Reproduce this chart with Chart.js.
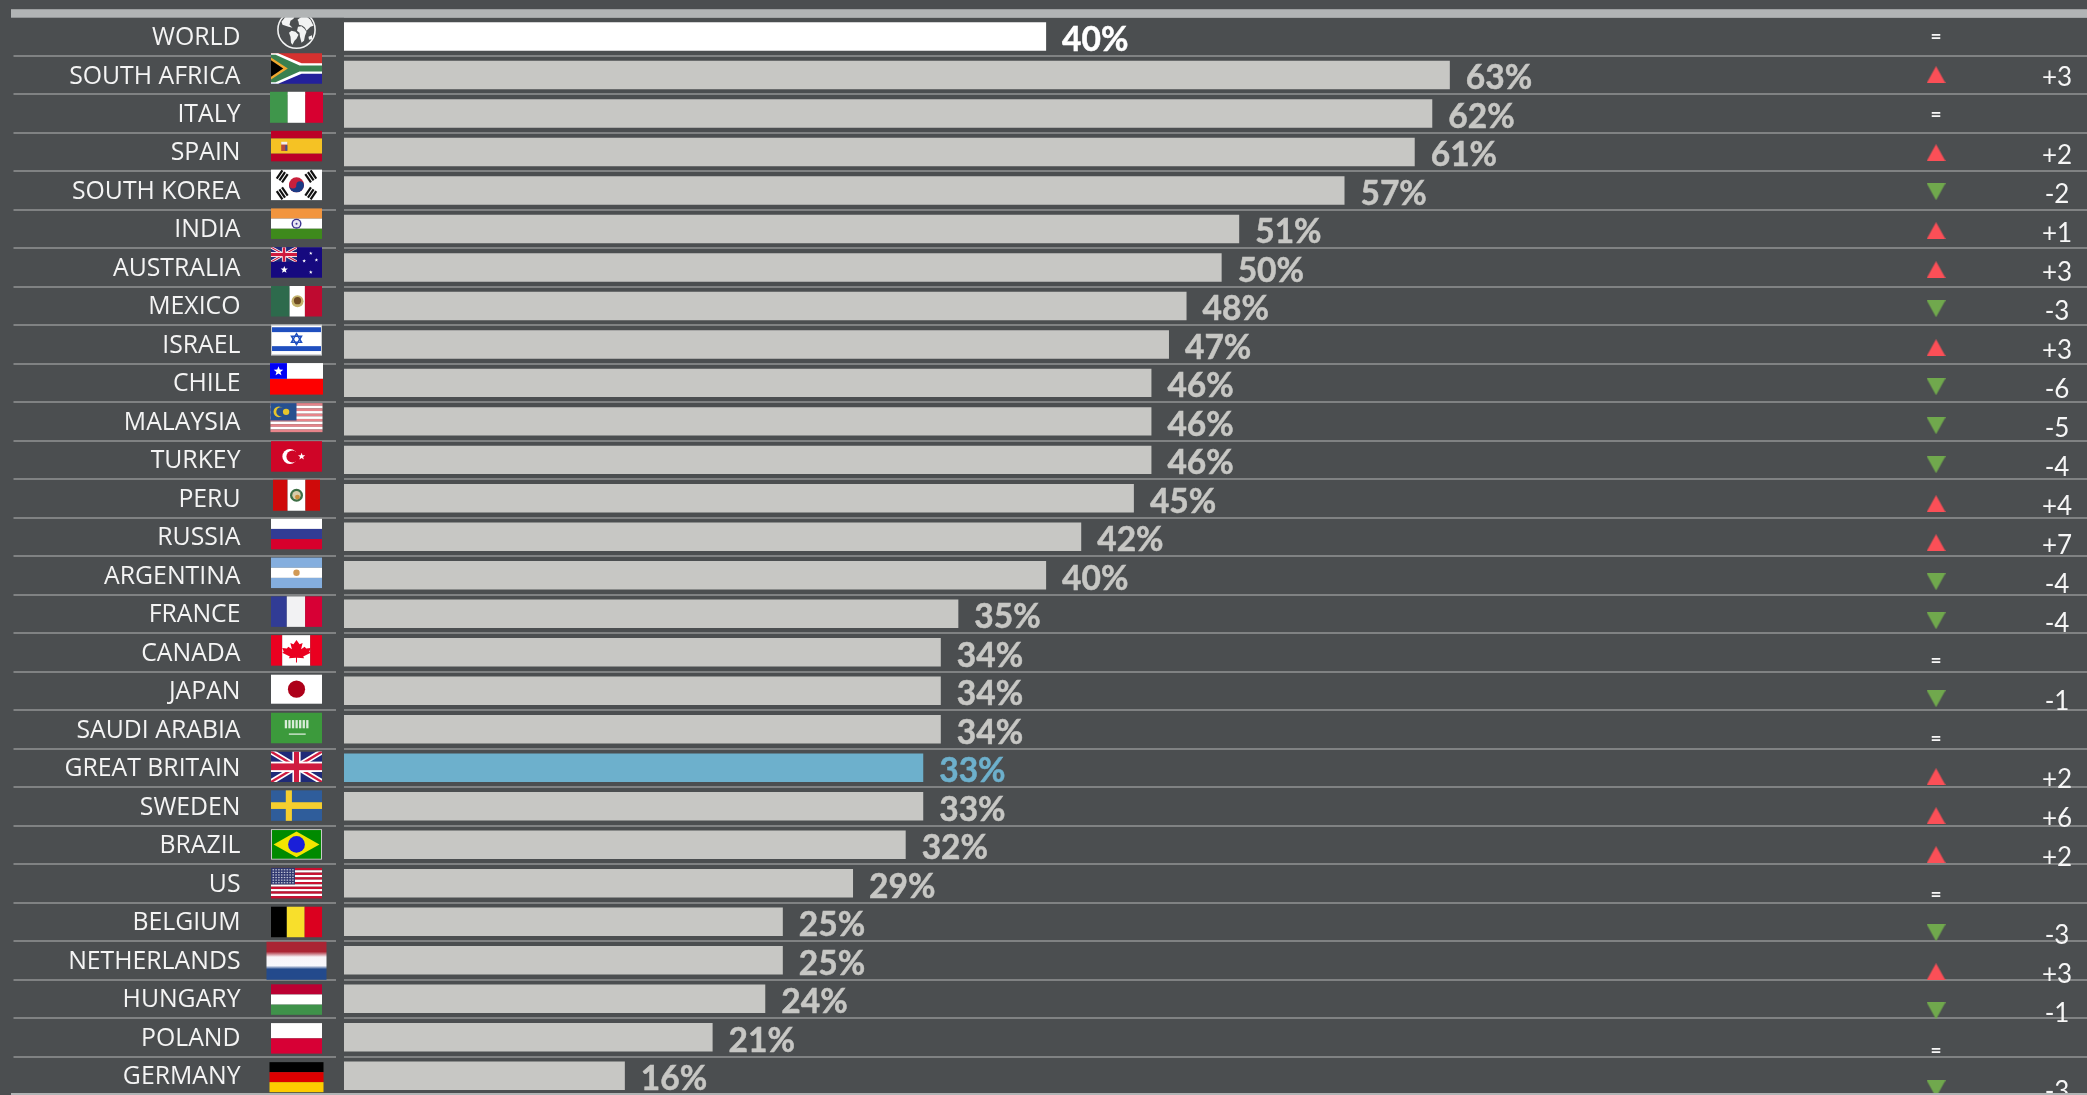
<!DOCTYPE html>
<html>
<head>
<meta charset="utf-8">
<title>Country ranking</title>
<script src="https://cdn.jsdelivr.net/npm/chart.js@4/dist/chart.umd.js"></script>
<style>
  html, body { margin: 0; padding: 0; background: #4b4e50; overflow: hidden; }
  canvas { display: block; }
</style>
</head>
<body>
<canvas id="myChart" width="2087" height="1095"></canvas>
<script>
const countries = ["WORLD", "SOUTH AFRICA", "ITALY", "SPAIN", "SOUTH KOREA", "INDIA", "AUSTRALIA", "MEXICO", "ISRAEL", "CHILE", "MALAYSIA", "TURKEY", "PERU", "RUSSIA", "ARGENTINA", "FRANCE", "CANADA", "JAPAN", "SAUDI ARABIA", "GREAT BRITAIN", "SWEDEN", "BRAZIL", "US", "BELGIUM", "NETHERLANDS", "HUNGARY", "POLAND", "GERMANY"];
const percent = [40, 63, 62, 61, 57, 51, 50, 48, 47, 46, 46, 46, 45, 42, 40, 35, 34, 34, 34, 33, 33, 32, 29, 25, 25, 24, 21, 16];
const change = [0, 3, 0, 2, -2, 1, 3, -3, 3, -6, -5, -4, 4, 7, -4, -4, 0, -1, 0, 2, 6, 2, 0, -3, 3, -1, 0, -3];

const BAR = "#c7c7c4";
const BLUE = "#6db0cc";
const RULE = "#808283";
const BAND = "#b1b4b5";
const UP = "#fb4f57";
const DOWN = "#70a84d";

// column for the arrows, in x scale units
const ARROW_COL = 90.7;
const CHANGE_X = 2057;

function triangle(color, down) {
  const c = document.createElement("canvas");
  c.width = 19;
  c.height = 17;
  const g = c.getContext("2d");
  g.fillStyle = color;
  g.beginPath();
  if (down) {
    g.moveTo(0, 0); g.lineTo(19, 0); g.lineTo(9.5, 17);
  } else {
    g.moveTo(9.5, 0); g.lineTo(19, 17); g.lineTo(0, 17);
  }
  g.fill();
  return c;
}
const upMark = triangle(UP, false);
const downMark = triangle(DOWN, true);

// ---- flags, all drawn in a 0..1 box ----
function rect(g, col, x, y, w, h) { g.fillStyle = col; g.fillRect(x, y, w, h); }
function hs(g, cols, cuts) {
  let y = 0;
  cols.forEach((c, i) => {
    const h = cuts ? cuts[i] : 1 / cols.length;
    rect(g, c, 0, y, 1, h);
    y += h;
  });
}
function vs(g, cols, cuts) {
  let x = 0;
  cols.forEach((c, i) => {
    const w = cuts ? cuts[i] : 1 / cols.length;
    rect(g, c, x, 0, w, 1);
    x += w;
  });
}
function poly(g, col, pts) {
  g.fillStyle = col;
  g.beginPath();
  pts.forEach((p, i) => (i ? g.lineTo(p[0], p[1]) : g.moveTo(p[0], p[1])));
  g.closePath();
  g.fill();
}
function seg(g, col, lw, x1, y1, x2, y2) {
  g.strokeStyle = col;
  g.lineWidth = lw;
  g.beginPath();
  g.moveTo(x1, y1);
  g.lineTo(x2, y2);
  g.stroke();
}
// circles in pixels so they stay round inside the stretched box
function dot(g, col, cx, cy, r, W, H) {
  g.save();
  g.translate(cx, cy);
  g.scale(1 / W, 1 / H);
  g.fillStyle = col;
  g.beginPath();
  g.arc(0, 0, r, 0, Math.PI * 2);
  g.fill();
  g.restore();
}
function star(g, col, cx, cy, r, W, H) {
  g.save();
  g.translate(cx, cy);
  g.scale(1 / W, 1 / H);
  g.fillStyle = col;
  g.beginPath();
  for (let i = 0; i < 10; i++) {
    const a = -Math.PI / 2 + i * Math.PI / 5, q = i % 2 ? r * 0.42 : r;
    g.lineTo(Math.cos(a) * q, Math.sin(a) * q);
  }
  g.closePath();
  g.fill();
  g.restore();
}
function unionJack(g, x, y, w, h, W, H) {
  g.save();
  g.beginPath();
  g.rect(x, y, w, h);
  g.clip();
  rect(g, "#1f2a78", x, y, w, h);
  // keep the cross strokes even: draw in pixels
  g.translate(x, y);
  g.scale(1 / W, 1 / H);
  const pw = w * W, ph = h * H, t = ph * 0.17;
  seg(g, "#fff", t * 1.1, 0, 0, pw, ph);
  seg(g, "#fff", t * 1.1, pw, 0, 0, ph);
  seg(g, "#cf1b3f", t * 0.45, 0, 0, pw, ph);
  seg(g, "#cf1b3f", t * 0.45, pw, 0, 0, ph);
  rect(g, "#fff", pw * 0.42, 0, pw * 0.16, ph);
  rect(g, "#fff", 0, ph * 0.33, pw, ph * 0.34);
  rect(g, "#cf1b3f", pw * 0.45, 0, pw * 0.1, ph);
  rect(g, "#cf1b3f", 0, ph * 0.39, pw, ph * 0.22);
  g.restore();
}
function crest(g, W, H, col, ring) {
  dot(g, ring, 0.5, 0.5, 6.5, W, H);
  dot(g, col, 0.5, 0.5, 4.2, W, H);
  dot(g, "#c98e3a", 0.52, 0.56, 2.4, W, H);
}

const flags = {
  "SOUTH AFRICA": (g, W, H) => {
    hs(g, ["#d5312f", "#23209b"], [0.5, 0.5]);
    poly(g, "#fff", [[0, 0], [0.14, 0], [0.6, 0.33], [1, 0.33], [1, 0.67], [0.6, 0.67], [0.14, 1], [0, 1]]);
    poly(g, "#39804f", [[0, 0.05], [0.09, 0.05], [0.56, 0.4], [1, 0.4], [1, 0.6], [0.56, 0.6], [0.09, 0.95], [0, 0.95]]);
    poly(g, "#f0a830", [[0, 0.14], [0.33, 0.5], [0, 0.86]]);
    poly(g, "#000", [[0, 0.23], [0.24, 0.5], [0, 0.77]]);
  },
  ITALY: g => vs(g, ["#3f964b", "#fff", "#d70030"]),
  SPAIN: (g, W, H) => {
    hs(g, ["#bc0027", "#f5c224", "#bc0027"], [0.25, 0.5, 0.25]);
    rect(g, "#b84a3a", 0.2, 0.38, 0.12, 0.28);
    rect(g, "#f1efe6", 0.2, 0.36, 0.12, 0.09);
    rect(g, "#3d4f8f", 0.28, 0.47, 0.04, 0.18);
  },
  "SOUTH KOREA": (g, W, H) => {
    rect(g, "#fff", 0, 0, 1, 1);
    dot(g, "#c8203c", 0.5, 0.5, 7.5, W, H);
    g.save();
    g.beginPath(); g.rect(0, 0.5, 1, 0.5); g.clip();
    dot(g, "#1c3b85", 0.5, 0.5, 7.5, W, H);
    g.restore();
    dot(g, "#c8203c", 0.43, 0.5, 3.7, W, H);
    dot(g, "#1c3b85", 0.57, 0.5, 3.7, W, H);
    [[0.22, 0.22, 0.6], [0.78, 0.22, -0.6], [0.22, 0.78, -0.6], [0.78, 0.78, 0.6]].forEach(p => {
      g.save();
      g.translate(p[0], p[1]);
      g.scale(1 / W, 1 / H);
      g.rotate(p[2] + Math.PI / 2);
      [-3.2, 0, 3.2].forEach(d => { g.fillStyle = "#111"; g.fillRect(-5, d - 1.1, 10, 2.2); });
      g.restore();
    });
  },
  INDIA: (g, W, H) => {
    hs(g, ["#f2953e", "#fff", "#3e8a1c"]);
    dot(g, "#3a3390", 0.5, 0.5, 5, W, H);
    dot(g, "#e8e6f2", 0.5, 0.5, 3.6, W, H);
    dot(g, "#3a3390", 0.5, 0.5, 1, W, H);
  },
  AUSTRALIA: (g, W, H) => {
    rect(g, "#16097f", 0, 0, 1, 1);
    unionJack(g, 0, 0, 0.51, 0.48, W, H);
    star(g, "#fff", 0.26, 0.74, 3.8, W, H);
    star(g, "#fff", 0.78, 0.2, 1.9, W, H);
    star(g, "#fff", 0.65, 0.45, 1.9, W, H);
    star(g, "#fff", 0.89, 0.42, 1.9, W, H);
    star(g, "#fff", 0.78, 0.82, 1.9, W, H);
  },
  MEXICO: (g, W, H) => {
    vs(g, ["#2d6a4c", "#fff", "#bf0a30"], [0.365, 0.3, 0.335]);
    dot(g, "#c3b26c", 0.52, 0.5, 6, W, H);
    dot(g, "#6d4a22", 0.52, 0.48, 3.6, W, H);
  },
  ISRAEL: (g, W, H) => {
    rect(g, "#fff", 0, 0, 1, 1);
    rect(g, "#1f4fbf", 0.02, 0.08, 0.96, 0.16);
    rect(g, "#1f4fbf", 0.02, 0.7, 0.96, 0.16);
    g.save();
    g.translate(0.5, 0.47);
    g.scale(1 / W, 1 / H);
    g.strokeStyle = "#1f4fbf";
    g.lineWidth = 1.5;
    [-1, 1].forEach(s => {
      g.beginPath();
      g.moveTo(0, -5.5 * s);
      g.lineTo(5, 3 * s);
      g.lineTo(-5, 3 * s);
      g.closePath();
      g.stroke();
    });
    g.restore();
    g.strokeStyle = "#c9cbcc";
    g.save();
    g.scale(1 / W, 1 / H);
    g.lineWidth = 1;
    g.strokeRect(0.5, 0.5, W - 1, H - 1);
    g.restore();
  },
  CHILE: (g, W, H) => {
    hs(g, ["#fff", "#fe0000"]);
    rect(g, "#0000f5", 0, 0, 0.32, 0.5);
    star(g, "#fff", 0.16, 0.26, 5, W, H);
  },
  MALAYSIA: (g, W, H) => {
    hs(g, ["#e7848a", "#fff", "#e7848a", "#fff", "#e7848a", "#fff", "#e7848a", "#fff", "#e7848a", "#fff", "#e7848a"]);
    rect(g, "#27508f", 0, 0, 0.5, 0.6);
    dot(g, "#e6c52c", 0.16, 0.3, 5.3, W, H);
    dot(g, "#27508f", 0.2, 0.3, 4.6, W, H);
    dot(g, "#e6c52c", 0.3, 0.3, 3.2, W, H);
  },
  TURKEY: (g, W, H) => {
    rect(g, "#cf0527", 0, 0, 1, 1);
    dot(g, "#fff", 0.37, 0.5, 7.5, W, H);
    dot(g, "#cf0527", 0.42, 0.5, 6, W, H);
    star(g, "#fff", 0.6, 0.5, 3.8, W, H);
  },
  PERU: (g, W, H) => {
    vs(g, ["#cf0a0a", "#fff", "#cf0a0a"], [0.31, 0.38, 0.31]);
    crest(g, W, H, "#d8ccaa", "#3d6e45");
  },
  RUSSIA: g => hs(g, ["#fff", "#313c95", "#d7002c"]),
  ARGENTINA: (g, W, H) => {
    hs(g, ["#84aede", "#fff", "#84aede"]);
    dot(g, "#d19a56", 0.5, 0.5, 3.2, W, H);
  },
  FRANCE: g => vs(g, ["#313c95", "#f2f2f3", "#d70035"], [0.31, 0.36, 0.33]),
  CANADA: (g, W, H) => {
    vs(g, ["#ea0020", "#fff", "#ea0020"], [0.22, 0.55, 0.23]);
    poly(g, "#ea0020", [[0.5, 0.16], [0.56, 0.3], [0.62, 0.26], [0.59, 0.46], [0.66, 0.38], [0.69, 0.44], [0.78, 0.42], [0.75, 0.54], [0.78, 0.58], [0.63, 0.7], [0.65, 0.76], [0.51, 0.74], [0.51, 0.9], [0.49, 0.9], [0.49, 0.74], [0.35, 0.76], [0.37, 0.7], [0.22, 0.58], [0.25, 0.54], [0.22, 0.42], [0.31, 0.44], [0.34, 0.38], [0.41, 0.46], [0.38, 0.26], [0.44, 0.3]]);
  },
  JAPAN: (g, W, H) => {
    rect(g, "#fff", 0, 0, 1, 1);
    dot(g, "#ad0019", 0.5, 0.5, 8.6, W, H);
  },
  "SAUDI ARABIA": (g, W, H) => {
    rect(g, "#3c9a3c", 0, 0, 1, 1);
    for (let x = 0.27; x < 0.72; x += 0.07) rect(g, "#d9ecd9", x, 0.24, 0.045, 0.27);
    rect(g, "#e6f2e6", 0.35, 0.68, 0.33, 0.04);
  },
  "GREAT BRITAIN": (g, W, H) => unionJack(g, 0, 0, 1, 1, W, H),
  SWEDEN: g => {
    rect(g, "#2f5d9b", 0, 0, 1, 1);
    rect(g, "#f5ce2e", 0.29, 0, 0.12, 1);
    rect(g, "#f5ce2e", 0, 0.39, 1, 0.22);
  },
  BRAZIL: (g, W, H) => {
    rect(g, "#c7c9c7", 0, 0, 1, 1);
    rect(g, "#008a00", 0.02, 0.03, 0.96, 0.94);
    poly(g, "#f2e500", [[0.05, 0.5], [0.5, 0.08], [0.95, 0.5], [0.5, 0.92]]);
    dot(g, "#1a1fd8", 0.5, 0.5, 8.4, W, H);
  },
  US: g => {
    const cols = [];
    for (let i = 0; i < 13; i++) cols.push(i % 2 ? "#fff" : "#c9102f");
    hs(g, cols);
    rect(g, "#30386f", 0, 0, 0.47, 0.54);
    for (let r = 0; r < 6; r++) {
      for (let c = 0; c < 8; c++) rect(g, "#c5c8d8", 0.03 + c * 0.055, 0.04 + r * 0.085, 0.03, 0.04);
    }
  },
  BELGIUM: g => vs(g, ["#000", "#f8df2b", "#db001f"], [0.31, 0.35, 0.34]),
  NETHERLANDS: g => {
    const fade = g.createLinearGradient(0, 0, 0, 1);
    fade.addColorStop(0, "#aa2433");
    fade.addColorStop(0.26, "#aa2433");
    fade.addColorStop(0.4, "#f7f4f8");
    fade.addColorStop(0.63, "#f8f8fc");
    fade.addColorStop(0.72, "#234a8c");
    fade.addColorStop(1, "#234a8c");
    rect(g, fade, 0, 0, 1, 1);
  },
  HUNGARY: g => hs(g, ["#bb0032", "#fff", "#3f924a"]),
  POLAND: g => hs(g, ["#fff", "#d70035"]),
  GERMANY: g => hs(g, ["#000", "#dd0000", "#ffcc00"])
};

// a few pictures in the reference are not the usual size
const flagBox = {
  NETHERLANDS: [60, 38],
  GERMANY: [54, 30],
  PERU: [47, 31],
  CHILE: [53, 31.5],
  ITALY: [53, 31],
  JAPAN: [51, 29],
  MALAYSIA: [52, 29]
};

function drawGlobe(g, cx, cy, r) {
  g.save();
  g.translate(cx, cy);
  g.strokeStyle = "#f2f3f3";
  g.lineWidth = 1.6;
  g.beginPath();
  g.arc(0, 0, r, 0, Math.PI * 2);
  g.stroke();
  g.fillStyle = "#f2f3f3";
  const land = [
    // north america
    [[-15, -8], [-11, -13], [-5, -15.5], [-1, -15], [-3, -11], [-6, -9], [-7, -5], [-4, -2], [-8, -3], [-11, -4], [-14, -5]],
    // south america
    [[-5, 1], [-1, 2], [2, 5], [0, 9], [-2, 11], [-4, 15], [-5.5, 13], [-6, 7], [-7.5, 3]],
    // europe and asia
    [[1, -10], [5, -13], [9, -14], [14, -10], [17, -4], [14, -3], [12, -1], [10, 1], [8.5, -2], [6, -4], [2.5, -5], [2, -8]],
    // africa
    [[1.5, -3], [5, -3.5], [8, -1], [10, 2], [8.5, 6], [7.5, 11], [5, 13], [3.5, 7], [3, 3], [0.5, 1]],
    // australia
    [[12, 7], [15.5, 5.5], [15.5, 9.5], [12.5, 10]]
  ];
  land.forEach(shape => {
    g.beginPath();
    shape.forEach((p, i) => (i ? g.lineTo(p[0], p[1]) : g.moveTo(p[0], p[1])));
    g.closePath();
    g.fill();
  });
  g.restore();
}

const sheetDecor = {
  id: "sheetDecor",
  beforeDraw(chart) {
    // nudge the country names down a little, their caps sit high on the row
    const items = chart.scales.y.getLabelItems();
    items.forEach(item => { item.options.translation[1] += 1.5; });
    chart.scales.y._labelItems = items;
  },
  beforeDatasetsDraw(chart) {
    const g = chart.ctx, y = chart.scales.y, area = chart.chartArea;
    g.save();
    g.strokeStyle = RULE;
    g.lineWidth = 2;
    for (let i = 1; i < countries.length; i++) {
      const py = Math.round((y.getPixelForValue(i - 1) + y.getPixelForValue(i)) / 2);
      g.beginPath();
      g.moveTo(13.5, py);
      g.lineTo(area.left - 8, py);
      g.stroke();
    }
    g.restore();
  },
  afterDatasetsDraw(chart) {
    const g = chart.ctx, rows = chart.scales.yFlag, right = chart.scales.yChange;
    g.save();

    // bar value labels
    const bars = chart.getDatasetMeta(0).data;
    g.font = "bold 33.5px Lato";
    g.textAlign = "left";
    g.textBaseline = "middle";
    g.lineWidth = 0.5;
    bars.forEach((bar, i) => {
      const col = i === 0 ? "#ffffff" : countries[i] === "GREAT BRITAIN" ? BLUE : BAR;
      g.fillStyle = col;
      g.strokeStyle = col;
      g.fillText(percent[i] + "%", bar.x + 16, bar.y + 3.5);
      g.strokeText(percent[i] + "%", bar.x + 16, bar.y + 3.5);
    });

    // change column
    g.textAlign = "center";
    g.fillStyle = "#f6f6f6";
    change.forEach((c, i) => {
      const py = right.getPixelForValue(i);
      if (c === 0) {
        g.font = "bold 19px Lato";
        g.fillText("=", chart.scales.x.getPixelForValue(ARROW_COL), py + 1);
      } else {
        g.font = "26px Lato";
        g.fillText((c > 0 ? "+" : "") + c, CHANGE_X, py + 3);
      }
    });

    // flags
    const COL = 296.5;
    countries.forEach((name, i) => {
      const py = rows.getPixelForValue(i);
      if (name === "WORLD") {
        drawGlobe(g, COL, py, 18.6);
        return;
      }
      const box = flagBox[name] || [51, 30.5];
      g.save();
      g.translate(COL - box[0] / 2, py - box[1] / 2);
      g.scale(box[0], box[1]);
      flags[name](g, box[0], box[1]);
      g.restore();
    });

    // bands along the top and bottom of the sheet
    const area = chart.chartArea;
    g.fillStyle = BAND;
    g.fillRect(11, area.top - 8, chart.width - 11, 8.5);
    g.fillRect(11, area.bottom - 2, chart.width - 11, 2);
    g.restore();
  }
};

const config = {
  type: "bar",
  data: {
    labels: countries,
    datasets: [
      {
        data: percent,
        yAxisID: "y",
        grouped: false,
        barPercentage: 0.74,
        categoryPercentage: 1,
        backgroundColor: countries.map((name, i) =>
          i === 0 ? "#ffffff" : name === "GREAT BRITAIN" ? BLUE : BAR
        ),
        order: 2
      },
      {
        type: "scatter",
        yAxisID: "yChange",
        data: change
          .map((c, i) => ({ x: ARROW_COL, y: i, c }))
          .filter(p => p.c !== 0),
        pointStyle: change.filter(c => c !== 0).map(c => (c > 0 ? upMark : downMark)),
        order: 1
      }
    ]
  },
  options: {
    indexAxis: "y",
    responsive: false,
    animation: false,
    layout: { autoPadding: false, padding: { top: 17.2, left: 0, right: 0, bottom: 0 } },
    plugins: { legend: { display: false }, tooltip: { enabled: false }, title: { display: false } },
    scales: {
      x: {
        type: "linear",
        min: 0,
        max: 99.3,
        display: false
      },
      y: {
        type: "category",
        position: "left",
        afterFit: scale => {
          // tick padding would otherwise also pad the axis top and bottom
          scale.width = 344;
          scale.paddingTop = 0;
          scale.paddingBottom = 0;
        },
        border: { display: false },
        grid: { color: RULE, lineWidth: 2, drawTicks: false },
        ticks: {
          padding: 103.5,
          autoSkip: false,
          color: "#f4f4f4",
          font: { family: "Open Sans", size: 24.8 }
        }
      },
      // the right hand column and the flags sit on a slightly different row pitch
      yChange: { axis: "y", type: "linear", offset: false, reverse: true, min: -0.474, max: 27.16, display: false },
      yFlag: { axis: "y", type: "linear", offset: false, reverse: true, min: -0.322, max: 27.46, display: false }
    }
  },
  plugins: [sheetDecor]
};

const myChart = new Chart(document.getElementById("myChart").getContext("2d"), config);
</script>
</body>
</html>
